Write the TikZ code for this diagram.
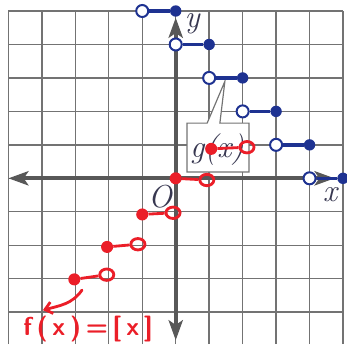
\documentclass[tikz,border=0pt]{standalone}
\usepackage{fontspec}
\usetikzlibrary{arrows.meta,shapes.geometric}
\definecolor{gridc}{RGB}{115,115,115}
\definecolor{axisc}{RGB}{88,88,88}
\definecolor{blu}{RGB}{30,50,145}
\definecolor{rd}{RGB}{235,30,40}
\definecolor{lbl}{RGB}{55,55,80}
\begin{document}
\begin{tikzpicture}[x=1cm,y=1cm,
 bopen/.style={circle,draw=blu,fill=white,line width=1.7pt,minimum size=0.36cm,inner sep=0pt},
 bfill/.style={circle,fill=blu,minimum size=0.34cm,inner sep=0pt},
 bseg/.style={blu,line width=3pt},
 ropen/.style={ellipse,draw=rd,line width=2.4pt,minimum width=0.42cm,minimum height=0.34cm,inner sep=0pt},
 rfill/.style={circle,fill=rd,minimum size=0.36cm,inner sep=0pt},
 rseg/.style={rd,line width=2.4pt},
 axisline/.style={axisc,line width=3.4pt,{Stealth[length=17pt,width=12pt,inset=4pt]}-{Stealth[length=17pt,width=12pt,inset=4pt]}},
 lab/.style={lbl,font=\fontsize{27}{30}\selectfont\itshape},
 callbox/.style={draw=gridc,fill=white,line width=1pt}
]
\useasboundingbox (-5.251,-4.952) rectangle (5.119,5.329);
% grid
\draw[gridc,line width=1.2pt] (-5,-4.952) grid (5,5);
% axes
\coordinate (xl) at (-5,0);
\coordinate (xr) at (4.75,0);
\coordinate (yb) at (0,-4.84);
\coordinate (yt) at (0,4.8);
\draw[axisline] (xl) -- (xr);
\draw[axisline] (yb) -- (yt);
% callout
\draw[callbox] (0.94,1.65) -- (0.34,1.65) -- (0.34,0.19) -- (2.19,0.19) -- (2.19,1.65) -- (1.32,1.65) -- (1.47,2.90) -- cycle;
% blue graph g(x)
\foreach \i/\a/\v in {1/-1/5,2/0/4,3/1/3,4/2/2,5/3/1,6/4/0}{
  \node[bopen] (bo\i) at (\a,\v) {};
  \node[bfill] (bf\i) at ({\a+1},\v) {};
  \draw[bseg] (bo\i) -- (bf\i);
}
% labels
\node[lab] (gl) at (1.24,0.86) {g(x)};
\node[lab] (xlab) at (4.61,-0.48) {x};
\node[lab] (ylab) at (0.49,4.62) {y};
\node[lab] (olab) at (-0.47,-0.56) {O};
% red graph f(x)
\node[rfill] (rf0) at (0,0) {};
\node[ropen] (ro0) at (0.93,-0.05) {};
\node[rfill] (rf1) at (-1,-1.08) {};
\node[ropen] (ro1) at (-0.08,-1.03) {};
\node[rfill] (rf2) at (-2.05,-2.05) {};
\node[ropen] (ro2) at (-1.13,-1.97) {};
\node[rfill] (rf3) at (-3.03,-3.02) {};
\node[ropen] (ro3) at (-2.06,-2.88) {};
\node[rfill] (rf4) at (1.06,0.88) {};
\node[ropen] (ro4) at (2.13,0.93) {};
\foreach \i in {0,...,4}{\draw[rseg] (rf\i) -- (ro\i);}
\coordinate (ra) at (-2.8,-3.34);
\coordinate (rb) at (-3.97,-3.94);
\draw[rd,line width=2.4pt,line cap=round,-{Straight Barb[length=6pt,width=10pt]}] (ra) to[out=235,in=15] (rb);
\node[rd,font=\sffamily\bfseries\fontsize{22}{24}\selectfont] (fl) at (-2.62,-4.5) {f\hspace{4pt}(\hspace{4pt}x\hspace{4pt})\hspace{4pt}=\hspace{4pt}[\hspace{4pt}x\hspace{4pt}]};
\end{tikzpicture}
\end{document}
